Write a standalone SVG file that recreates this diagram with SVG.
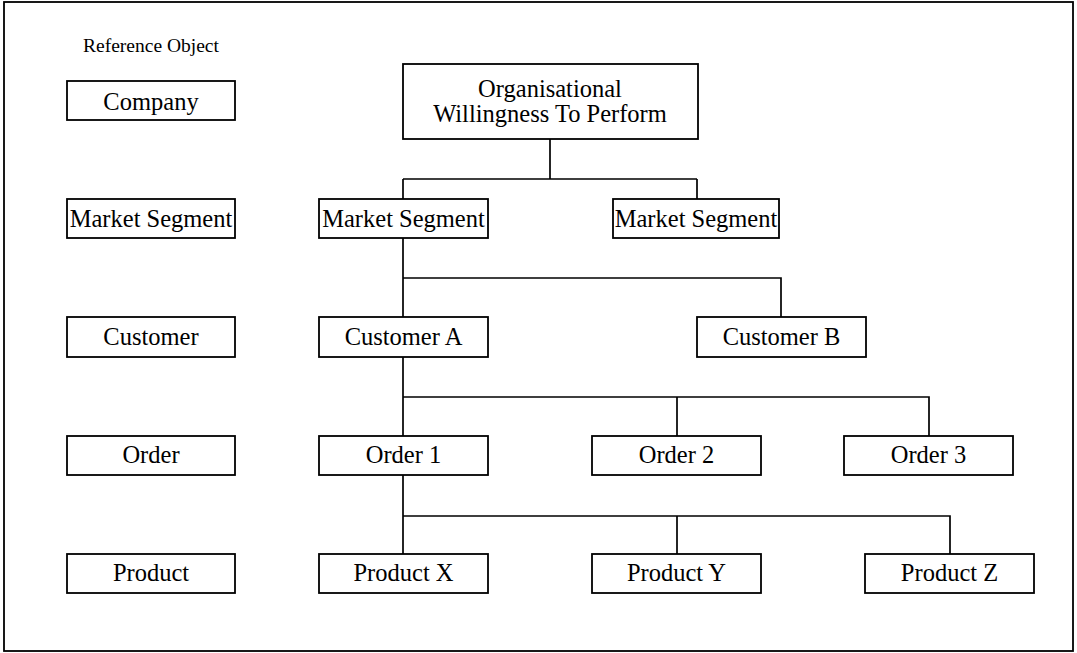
<svg xmlns="http://www.w3.org/2000/svg" width="1077" height="653" viewBox="0 0 1077 653">
<style>
.box{fill:#fff;stroke:#000;stroke-width:1.8}
.t{font-family:"Liberation Serif","Times New Roman",serif;font-size:24.5px;fill:#000;text-anchor:middle}
.small{font-family:"Liberation Serif","Times New Roman",serif;font-size:19.5px;fill:#000;text-anchor:middle}
.c{fill:none;stroke:#000;stroke-width:1.7}
</style>
<rect x="0" y="0" width="1077" height="653" fill="#fff"/>
<rect x="4" y="2" width="1069" height="649" fill="#fff" stroke="#000" stroke-width="1.8"/>
<text class="small" x="151" y="52">Reference Object</text>
<g id="connectors">
<path class="c" d="M550,139 V179 M403,179 H697 M403,179 V199 M697,179 V199"/>
<path class="c" d="M403,238 V317 M403,278 H781 V317"/>
<path class="c" d="M403,357 V436 M403,397 H929 V436 M677,397 V436"/>
<path class="c" d="M403,475 V554 M403,516 H950 V554 M677,516 V554"/>
</g>
<g id="ref-company"><rect class="box" x="67" y="81" width="168" height="39"/><text class="t" x="151" y="110">Company</text></g>
<g id="ref-market"><rect class="box" x="67" y="199" width="168" height="39"/><text class="t" x="151" y="227">Market Segment</text></g>
<g id="ref-customer"><rect class="box" x="67" y="317" width="168" height="40"/><text class="t" x="151" y="345">Customer</text></g>
<g id="ref-order"><rect class="box" x="67" y="436" width="168" height="39"/><text class="t" x="151" y="463">Order</text></g>
<g id="ref-product"><rect class="box" x="67" y="554" width="168" height="39"/><text class="t" x="151" y="581">Product</text></g>
<g id="org"><rect class="box" x="403" y="64" width="295" height="75"/><text class="t" x="550" y="97">Organisational</text><text class="t" x="550" y="122">Willingness To Perform</text></g>
<g id="market1"><rect class="box" x="319" y="199" width="169" height="39"/><text class="t" x="403.5" y="227">Market Segment</text></g>
<g id="market2"><rect class="box" x="613" y="199" width="166" height="39"/><text class="t" x="696" y="227">Market Segment</text></g>
<g id="customerA"><rect class="box" x="319" y="317" width="169" height="40"/><text class="t" x="403.5" y="345">Customer A</text></g>
<g id="customerB"><rect class="box" x="697" y="317" width="169" height="40"/><text class="t" x="781.5" y="345">Customer B</text></g>
<g id="order1"><rect class="box" x="319" y="436" width="169" height="39"/><text class="t" x="403.5" y="463">Order 1</text></g>
<g id="order2"><rect class="box" x="592" y="436" width="169" height="39"/><text class="t" x="676.5" y="463">Order 2</text></g>
<g id="order3"><rect class="box" x="844" y="436" width="169" height="39"/><text class="t" x="928.5" y="463">Order 3</text></g>
<g id="productX"><rect class="box" x="319" y="554" width="169" height="39"/><text class="t" x="403.5" y="581">Product X</text></g>
<g id="productY"><rect class="box" x="592" y="554" width="169" height="39"/><text class="t" x="676.5" y="581">Product Y</text></g>
<g id="productZ"><rect class="box" x="865" y="554" width="169" height="39"/><text class="t" x="949.5" y="581">Product Z</text></g>
</svg>
